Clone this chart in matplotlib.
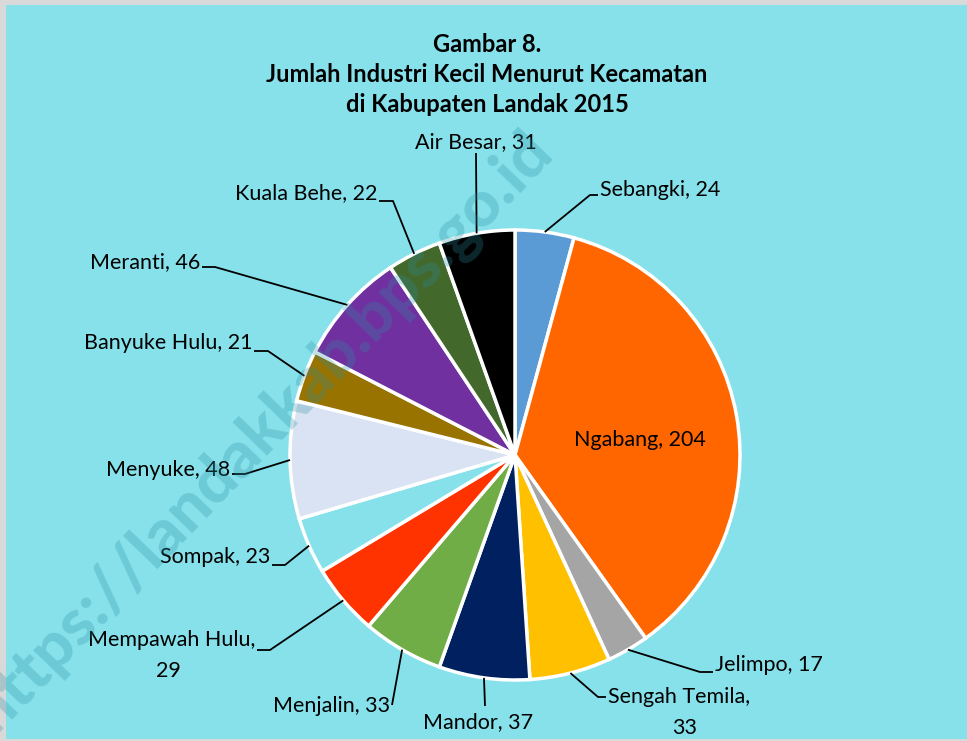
import numpy as np
import matplotlib
matplotlib.use("Agg")
import matplotlib.pyplot as plt
from matplotlib.patches import Rectangle

categories = ["Sebangki", "Ngabang", "Jelimpo", "Sengah Temila", "Mandor", "Menjalin",
              "Mempawah Hulu", "Sompak", "Menyuke", "Banyuke Hulu", "Meranti",
              "Kuala Behe", "Air Besar"]
values = [24, 204, 17, 33, 37, 33, 29, 23, 48, 21, 46, 22, 31]
colors = ["#5B9BD5", "#FF6600", "#A5A5A5", "#FFC000", "#002060", "#70AD47",
          "#FF3300", "#86E1EB", "#DAE3F3", "#997300", "#7030A0", "#43682B", "#000000"]
label_texts = ["Sebangki, 24", "Ngabang, 204", "Jelimpo, 17", "Sengah Temila,\n33",
               "Mandor, 37", "Menjalin, 33", "Mempawah Hulu,\n29", "Sompak, 23",
               "Menyuke, 48", "Banyuke Hulu, 21", "Meranti, 46", "Kuala Behe, 22",
               "Air Besar, 31"]
title_lines = ["Gambar 8.", "Jumlah Industri Kecil Menurut Kecamatan",
               "di Kabupaten Landak 2015"]

W, H = 967, 741
BG = "#86E1EB"
FONT = ["Lato", "DejaVu Sans"]
FS = 15.5

fig = plt.figure(figsize=(W / 100, H / 100), dpi=100)
fig.patch.set_facecolor("#D9D9D9")
ax = fig.add_axes([0, 0, 1, 1])
ax.set_xlim(0, W)
ax.set_ylim(0, H)
ax.set_aspect("equal")
ax.axis("off")

ax.add_patch(Rectangle((6, 2), W - 6, H - 2 - 5, facecolor=BG, edgecolor="none", zorder=0))

cx, cy, R = 515, H - 455, 225
wedges, _ = ax.pie(values, colors=colors, startangle=90, counterclock=False,
                   center=(cx, cy), radius=R, frame=True,
                   wedgeprops=dict(edgecolor="white", linewidth=2.5))
ax.set_xlim(0, W)
ax.set_ylim(0, H)
ax.axis("off")

# (text_x, text_y, ha, line_end_x, line_end_y, horizontal_end_x) in pixels from top-left
label_pos = [
    (600, 190, "left", 590, 195, 598),
    (640, 440, "center", None, None, None),
    (715, 665, "left", 700, 672, 713),
    (608, 697, "left", 598, 697, 606),
    (478, 722, "center", 485, 706, None),
    (390, 706, "right", 392, 705, None),
    (255, 640, "right", 270, 650, 257),
    (270, 557, "right", 285, 565, 272),
    (230, 470, "right", 245, 474, 232),
    (252, 343, "right", 268, 351, 254),
    (200, 262, "right", 215, 267, 202),
    (377, 193, "right", 393, 201, 379),
    (476, 142, "center", 476, 153, None),
]

for i, (w, txt, lp) in enumerate(zip(wedges, label_texts, label_pos)):
    theta = np.deg2rad((w.theta1 + w.theta2) / 2)
    tx, ty, ha, lx, ly, hx = lp
    if lx is None:
        ax.text(tx, H - ty, txt, ha="center", va="center", fontsize=FS,
                family=FONT, color="black", zorder=5)
        continue
    ex = cx + R * np.cos(theta)
    ey = cy + R * np.sin(theta)
    xs = [ex, lx]
    ys = [ey, H - ly]
    if hx is not None:
        xs.append(hx)
        ys.append(H - ly)
    ax.plot(xs, ys, color="black", lw=1.3, zorder=4, solid_capstyle="butt")
    if "\n" in txt:
        first, second = txt.split("\n")
        ax.text(tx, H - ty, first, ha=ha, va="center", fontsize=FS, family=FONT, zorder=5)
        sx = tx + 77 if ha == "left" else tx - 87
        ax.text(sx, H - ty - 31, second, ha="center", va="center", fontsize=FS,
                family=FONT, zorder=5)
    else:
        ax.text(tx, H - ty, txt, ha=ha, va="center", fontsize=FS, family=FONT, zorder=5)

for k, line in enumerate(title_lines):
    ax.text(487, H - (45 + k * 30), line, ha="center", va="center", fontsize=17,
            fontweight="bold", family=FONT, zorder=5)

ax.text(262, H - 432, "https://landakkab.bps.go.id", rotation=46, ha="center",
        va="center", fontsize=47, fontweight="black", family=FONT,
        color="#2a8fa0", alpha=0.28, zorder=6)

fig.savefig("out.png", dpi=100, facecolor=fig.get_facecolor())
